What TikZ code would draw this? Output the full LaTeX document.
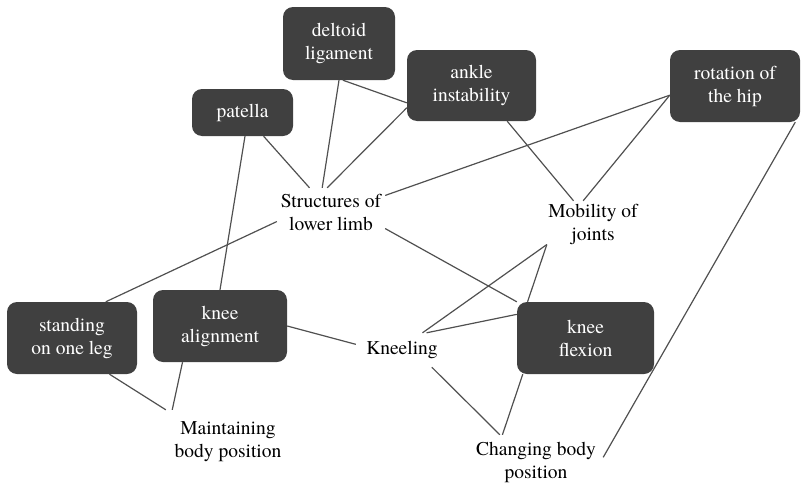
\documentclass[tikz,border=0pt]{standalone}
\usepackage{fontspec}
\setmainfont{texgyretermes}[Extension=.otf,UprightFont=*-regular,BoldFont=*-bold,ItalicFont=*-italic]
\definecolor{boxgray}{HTML}{404040}
\definecolor{linegray}{HTML}{505050}
\begin{document}
\begin{tikzpicture}[x=1pt,y=-1pt,
  box/.style={fill=boxgray,text=white,rounded corners=10pt,align=center,inner sep=0pt,font=\fontsize{19.5}{23}\selectfont},
  term/.style={align=center,inner sep=0pt,font=\fontsize{19.5}{23}\selectfont},
  link/.style={draw=linegray,line width=1.2pt}]
\useasboundingbox (0,0) rectangle (801,490);

\node[box,minimum width=112pt,minimum height=73pt] (delt) at (339,43.5) {deltoid\\ligament};
\node[box,minimum width=129pt,minimum height=71pt] (ankle) at (471.5,85.5) {ankle\\instability};
\node[box,minimum width=101pt,minimum height=47pt] (pat) at (242.5,112.5) {patella};
\node[box,minimum width=130pt,minimum height=72pt] (hip) at (735,86) {rotation of\\the hip};
\node[box,minimum width=130pt,minimum height=72pt] (stand) at (72,338) {standing\\on one leg};
\node[box,minimum width=134pt,minimum height=72pt] (align) at (220,326) {knee\\alignment};
\node[box,minimum width=137pt,minimum height=72pt] (flex) at (585.5,338) {knee\\flexion};

\node[term,minimum width=108pt,minimum height=48pt] (struct) at (331,212) {Structures of\\lower limb};
\node[term,minimum width=92pt,minimum height=46pt] (mob) at (593,224) {Mobility of\\joints};
\node[term,minimum width=92pt,minimum height=34pt] (kneel) at (402,350) {Kneeling};
\node[term,minimum width=124pt,minimum height=64pt] (maint) at (228,442) {Maintaining\\body position};
\node[term,minimum width=134pt,minimum height=54pt] (chang) at (536,462) {Changing body\\position};

\draw[link] (pat) -- (struct);
\draw[link] (delt.south) -- (struct.110);
\draw[link] (delt.-84) -- (ankle.195);
\draw[link] (ankle.199) -- (struct.99);
\draw[link] (struct.17) -- (hip.188);
\draw[link] (ankle.-45) -- (mob.130);
\draw[link] (hip.188) -- (mob.113);
\draw[link] (struct.190) -- (stand.47);
\draw[link] (struct.-17) -- (flex.north west);
\draw[link] (pat.-84) -- (align.north);
\draw[link] (align.east) -- (kneel.173);
\draw[link] (stand.-44) -- (maint.north west);
\draw[link] (align.224) -- (maint.150);
\draw[link] (kneel.40) -- (mob.204);
\draw[link] (kneel.35) -- (flex.161);
\draw[link] (mob.204) -- (flex.148);
\draw[link] (kneel.-30) -- (chang.143);
\draw[link] (flex.210) -- (chang.141);
\draw[link] (hip.-31) -- (chang.4);
\end{tikzpicture}
\end{document}
